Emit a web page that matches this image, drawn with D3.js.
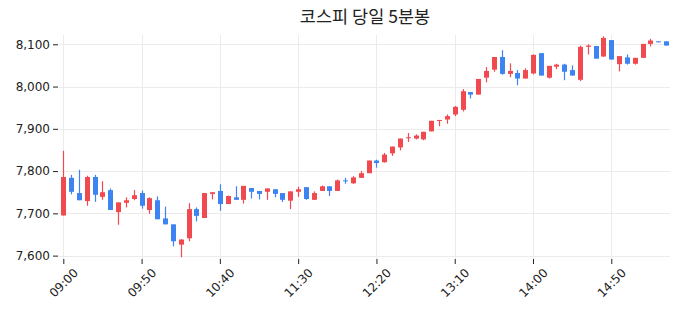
<!DOCTYPE html>
<html>
<head>
<meta charset="utf-8">
<script src="https://cdn.jsdelivr.net/npm/d3@7"></script>
<style>
  html, body { margin: 0; padding: 0; background: #fff; }
  svg { display: block; }
</style>
</head>
<body>
<svg id="chart" width="676" height="316"></svg>
<script>
const times = ["09:00","09:05","09:10","09:15","09:20","09:25","09:30","09:35","09:40","09:45",
  "09:50","09:55","10:00","10:05","10:10","10:15","10:20","10:25","10:30","10:35",
  "10:40","10:45","10:50","10:55","11:00","11:05","11:10","11:15","11:20","11:25",
  "11:30","11:35","11:40","11:45","11:50","11:55","12:00","12:05","12:10","12:15",
  "12:20","12:25","12:30","12:35","12:40","12:45","12:50","12:55","13:00","13:05",
  "13:10","13:15","13:20","13:25","13:30","13:35","13:40","13:45","13:50","13:55",
  "14:00","14:05","14:10","14:15","14:20","14:25","14:30","14:35","14:40","14:45",
  "14:50","14:55","15:00","15:05","15:10","15:15","15:20","15:25"];
const openV  = [7695,7784,7748,7729,7786,7739,7755,7703,7725,7734,
  7748,7708,7731,7688,7674,7626,7641,7710,7689,7746,
  7753,7722,7738,7732,7760,7753,7751,7757,7748,7730,
  7751,7762,7732,7753,7764,7753,7778,7771,7784,7795,
  7825,7821,7842,7856,7878,7877,7875,7894,7919,7922,
  7934,7945,7987,7981,8021,8040,8070,8030,8032,8019,
  8031,8079,8021,8047,8052,8039,8016,8094,8096,8071,
  8110,8053,8069,8054,8068,8101,8107,8107];
const highV  = [7848,7791,7803,7789,7791,7776,7759,7726,7738,7755,
  7754,7738,7740,7716,7674,7639,7724,7714,7748,7750,
  7769,7742,7764,7765,7760,7753,7759,7757,7748,7752,
  7763,7762,7752,7766,7764,7780,7784,7788,7800,7825,
  7827,7843,7858,7877,7890,7887,7893,7919,7921,7934,
  7954,7994,7987,8018,8046,8070,8086,8055,8039,8043,
  8076,8079,8049,8054,8054,8050,8097,8100,8096,8119,
  8110,8072,8076,8068,8101,8113,8107,8107];
const lowV   = [7695,7745,7731,7718,7727,7732,7708,7673,7714,7731,
  7711,7699,7686,7674,7622,7596,7634,7681,7689,7733,
  7706,7722,7732,7723,7735,7733,7732,7738,7727,7710,
  7739,7732,7732,7753,7741,7753,7770,7770,7784,7795,
  7808,7820,7836,7849,7869,7875,7873,7894,7906,7912,
  7930,7941,7972,7981,8010,8035,8028,8022,8003,8019,
  8029,8026,8019,8041,8015,8026,8013,8076,8066,8071,
  8064,8036,8052,8052,8068,8095,8105,8097];
const closeV = [7786,7751,7731,7786,7744,7750,7708,7726,7731,7743,
  7718,7736,7686,7674,7634,7638,7710,7694,7748,7750,
  7722,7741,7732,7765,7751,7746,7759,7746,7732,7752,
  7757,7734,7748,7764,7753,7778,7777,7785,7795,7825,
  7819,7839,7858,7877,7880,7884,7893,7919,7921,7930,
  7952,7989,7981,8018,8037,8070,8030,8037,8019,8039,
  8075,8026,8049,8052,8035,8026,8094,8097,8066,8115,
  8064,8072,8054,8068,8101,8109,8105,8097];
const yTicks = [7600, 7700, 7800, 7900, 8000, 8100];
const xTickLabels = ["09:00","09:50","10:40","11:30","12:20","13:10","14:00","14:50"];
const title = "코스피 당일 5분봉";

const upColor = "#f04a50", downColor = "#3d84f2";
const L = 59, R = 670, T = 35, B = 259;

const svg = d3.select("#chart");
const x = d3.scaleLinear().domain([-0.55, times.length - 0.5]).range([L, R]);
const y = d3.scaleLinear().domain([7592, 8122]).range([B, T]);

const data = times.map((t, i) => ({ i, t, o: openV[i], h: highV[i], l: lowV[i], c: closeV[i] }));
const xTickIdx = xTickLabels.map(s => times.indexOf(s));

// grid
const grid = svg.append("g");
grid.selectAll("line.h").data(yTicks).join("line")
  .attr("x1", L).attr("x2", R)
  .attr("y1", d => Math.round(y(d)) + 0.5).attr("y2", d => Math.round(y(d)) + 0.5)
  .attr("stroke", "#ebebeb").attr("stroke-width", 1);
grid.selectAll("line.v").data(xTickIdx).join("line")
  .attr("y1", T).attr("y2", B)
  .attr("x1", d => Math.round(x(d)) + 0.5).attr("x2", d => Math.round(x(d)) + 0.5)
  .attr("stroke", "#ebebeb").attr("stroke-width", 1);

// y axis
const yAxis = svg.append("g").attr("transform", `translate(${L - 1},0)`)
  .call(d3.axisLeft(y).tickValues(yTicks).tickFormat(d3.format(",")).tickSize(5).tickPadding(3));
yAxis.select(".domain").remove();
yAxis.selectAll(".tick line").attr("stroke", "#222");
yAxis.selectAll("text").attr("font-family", "DejaVu Sans").attr("font-size", 12).attr("fill", "#222");

// x axis
const xAxis = svg.append("g").attr("transform", `translate(0,${B})`)
  .call(d3.axisBottom(x).tickValues(xTickIdx).tickFormat((d, k) => xTickLabels[k]).tickSize(5).tickPadding(3));
xAxis.select(".domain").remove();
xAxis.selectAll(".tick line").attr("stroke", "#222");
xAxis.selectAll(".tick text")
  .attr("font-family", "DejaVu Sans").attr("font-size", 12).attr("fill", "#222")
  .attr("text-anchor", "middle").attr("dominant-baseline", "central")
  .attr("y", 24).attr("dy", null)
  .attr("transform", "rotate(-45, 0, 24)");

// candles
const bw = 5;
const g = svg.append("g");
const candle = g.selectAll("g.c").data(data).join("g");
candle.append("line")
  .attr("x1", d => Math.round(x(d.i)) + 0.5).attr("x2", d => Math.round(x(d.i)) + 0.5)
  .attr("y1", d => y(d.h)).attr("y2", d => y(d.l))
  .attr("stroke", d => d.c >= d.o ? upColor : downColor).attr("stroke-width", 1.2);
candle.append("rect")
  .attr("x", d => Math.round(x(d.i)) + 0.5 - bw / 2)
  .attr("width", bw)
  .attr("y", d => y(Math.max(d.o, d.c)))
  .attr("height", d => Math.max(1, Math.abs(y(d.o) - y(d.c))))
  .attr("fill", d => d.c >= d.o ? upColor : downColor);

// title
svg.append("text").attr("x", 365).attr("y", 23)
  .attr("text-anchor", "middle")
  .attr("font-family", "'Noto Sans CJK KR', sans-serif").attr("font-size", 17.5)
  .attr("fill", "#222").text(title);
</script>
</body>
</html>
